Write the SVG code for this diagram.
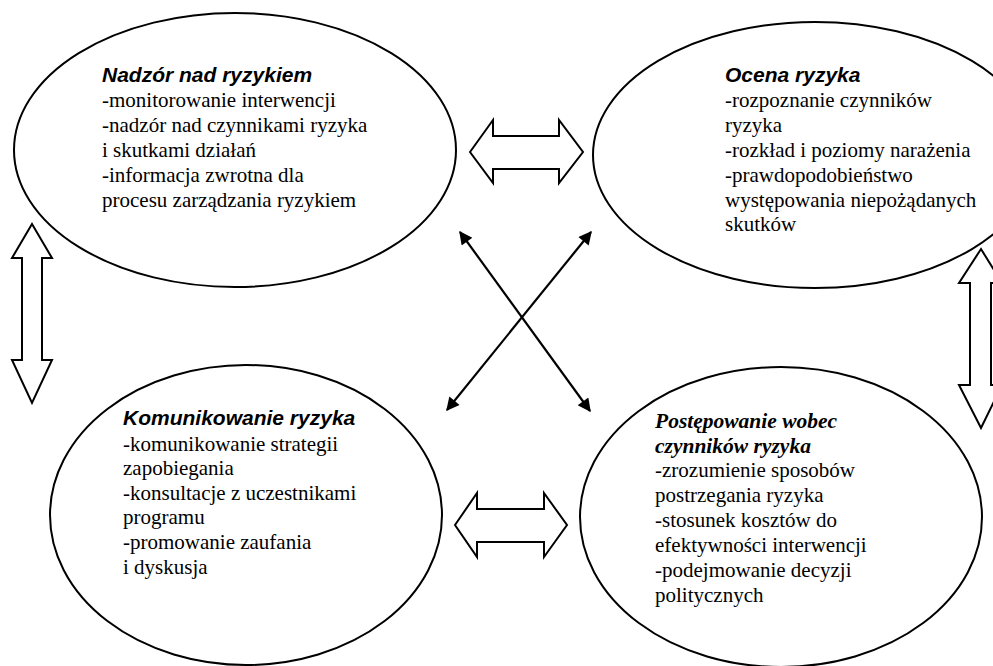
<svg xmlns="http://www.w3.org/2000/svg" width="993" height="666" viewBox="0 0 993 666">
<defs>
<style>
.el{fill:#fff;stroke:#000;stroke-width:2}
.blk{fill:#fff;stroke:#000;stroke-width:2;stroke-linejoin:miter}
.ln{stroke:#000;stroke-width:2.2;fill:none;marker-start:url(#ah);marker-end:url(#ah)}
.t{font-family:"Liberation Serif","Times New Roman",serif;font-size:21px;fill:#000}
.h{font-family:"Liberation Sans",Arial,sans-serif;font-size:21px;font-weight:bold;font-style:italic;fill:#000}
.hs{font-family:"Liberation Serif","Times New Roman",serif;font-size:21.5px;font-weight:bold;font-style:italic;fill:#000}
</style>
<marker id="ah" viewBox="0 0 10 10" refX="9" refY="5" markerWidth="7" markerHeight="6" markerUnits="strokeWidth" orient="auto-start-reverse">
<path d="M0,0 L10,5 L0,10 z" fill="#000"/>
</marker>
</defs>
<rect width="993" height="666" fill="#fff"/>
<g id="node-nadzor">
<ellipse class="el" cx="235" cy="150" rx="221" ry="137"/>
<text class="h" x="102" y="82">Nadzór nad ryzykiem</text>
<text class="t" x="102" y="107">-monitorowanie interwencji</text>
<text class="t" x="102" y="132">-nadzór nad czynnikami ryzyka</text>
<text class="t" x="102" y="157">i skutkami działań</text>
<text class="t" x="102" y="182">-informacja zwrotna dla</text>
<text class="t" x="102" y="207">procesu zarządzania ryzykiem</text>
</g>
<g id="node-ocena">
<ellipse class="el" cx="815" cy="155" rx="222" ry="133"/>
<text class="h" x="725" y="82">Ocena ryzyka</text>
<text class="t" x="725" y="107">-rozpoznanie czynników</text>
<text class="t" x="725" y="132">ryzyka</text>
<text class="t" x="725" y="157">-rozkład i poziomy narażenia</text>
<text class="t" x="725" y="182">-prawdopodobieństwo</text>
<text class="t" x="725" y="207">występowania niepożądanych</text>
<text class="t" x="725" y="231">skutków</text>
</g>
<g id="node-komunikowanie">
<ellipse class="el" cx="246" cy="515" rx="196" ry="150"/>
<text class="h" x="123" y="425">Komunikowanie ryzyka</text>
<text class="t" x="123" y="451">-komunikowanie strategii</text>
<text class="t" x="123" y="475">zapobiegania</text>
<text class="t" x="123" y="500">-konsultacje z uczestnikami</text>
<text class="t" x="123" y="524">programu</text>
<text class="t" x="123" y="549">-promowanie zaufania</text>
<text class="t" x="123" y="574">i dyskusja</text>
</g>
<g id="node-postepowanie">
<ellipse class="el" cx="781" cy="517" rx="201" ry="150"/>
<text class="hs" x="655" y="428">Postępowanie wobec</text>
<text class="hs" x="655" y="453">czynników ryzyka</text>
<text class="t" x="655" y="477">-zrozumienie sposobów</text>
<text class="t" x="655" y="502">postrzegania ryzyka</text>
<text class="t" x="655" y="527">-stosunek kosztów do</text>
<text class="t" x="655" y="552">efektywności interwencji</text>
<text class="t" x="655" y="577">-podejmowanie decyzji</text>
<text class="t" x="655" y="602">politycznych</text>
</g>
<g id="connectors">
<polygon class="blk" points="470,152 493,120 493,136 559,136 559,120 583,152 559,183 559,169 493,169 493,183"/>
<polygon class="blk" points="455,525 477,493 477,509 544,509 544,493 567,525 544,557 544,542 477,542 477,557"/>
<polygon class="blk" points="32,224 52,258 42,258 42,360 52,360 32,403 12,360 22,360 22,258 12,258"/>
<polygon class="blk" points="981,249 1002,283 991,283 991,385 1002,385 981,428 959,385 970,385 970,283 959,283"/>
<line class="ln" x1="460" y1="232" x2="590" y2="411"/>
<line class="ln" x1="591" y1="232" x2="447" y2="410"/>
</g>
</svg>
